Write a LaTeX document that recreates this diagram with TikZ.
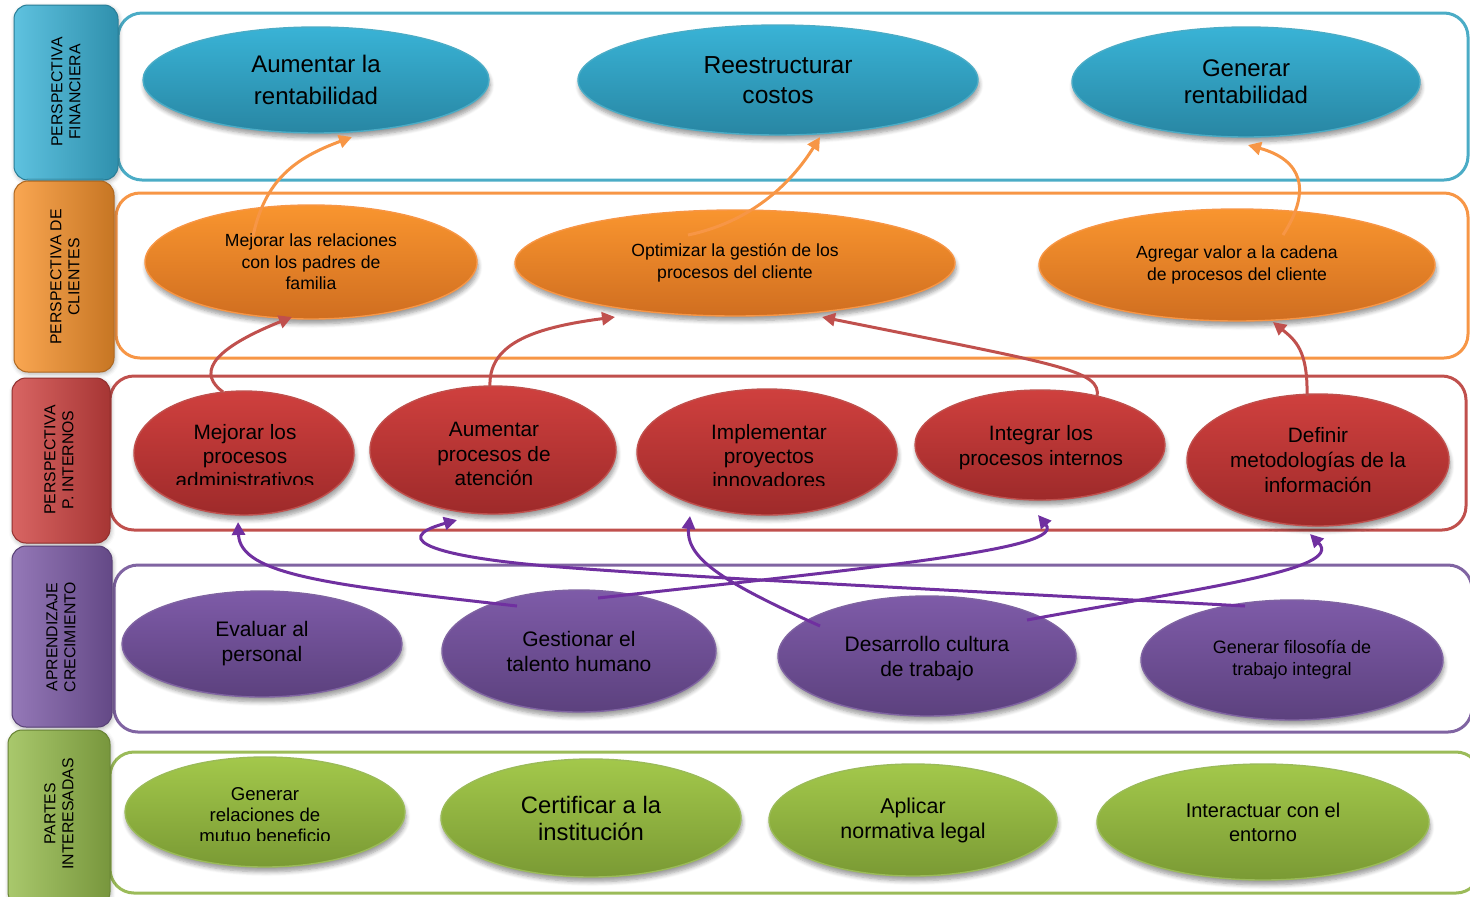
\documentclass[tikz,border=0pt]{standalone}
\usepackage{fontspec}
\setmainfont{Liberation Sans}
\usetikzlibrary{shapes.geometric,arrows.meta,calc,shadows.blur}

% palette
\definecolor{bluE}{HTML}{4BACC6}\definecolor{bluT}{HTML}{39B3D6}\definecolor{bluB}{HTML}{2886A3}
\definecolor{oraE}{HTML}{F79646}\definecolor{oraT}{HTML}{F9952F}\definecolor{oraB}{HTML}{D06E20}
\definecolor{redE}{HTML}{C0504D}\definecolor{redT}{HTML}{CF403E}\definecolor{redB}{HTML}{9E2A2A}
\definecolor{purE}{HTML}{8064A2}\definecolor{purT}{HTML}{7E5BA8}\definecolor{purB}{HTML}{5C417E}
\definecolor{grnE}{HTML}{9BBB59}\definecolor{grnT}{HTML}{A3C84B}\definecolor{grnB}{HTML}{7A9A34}
\definecolor{purA}{HTML}{7030A0}
% label box fills
\definecolor{bluL}{HTML}{3BB4D8}\definecolor{oraL}{HTML}{F8932C}\definecolor{redL}{HTML}{D04341}
\definecolor{purL}{HTML}{7D5BA8}\definecolor{grnL}{HTML}{96BC4C}

\tikzset{
  % arguments: full width and full height in drawing units (0.5pt each)
  oval/.style 2 args={ellipse, inner sep=0pt, minimum width=#1*0.5pt, minimum height=#2*0.5pt,
    align=center, text=black, line width=0.7pt,
    blur shadow={shadow xshift=0.6pt, shadow yshift=-2.4pt, shadow blur steps=6, shadow opacity=40}},
  cB/.style={draw=bluE, top color=bluT, bottom color=bluB},
  cO/.style={draw=oraE, top color=oraT, bottom color=oraB},
  cR/.style={draw=redE, top color=redT, bottom color=redB},
  cP/.style={draw=purE, top color=purT, bottom color=purB},
  cG/.style={draw=grnE, top color=grnT, bottom color=grnB},
  panel/.style={draw=#1, line width=1.5pt, rounded corners=12pt},
  labbox/.style={rounded corners=7pt, line width=0.5pt, draw=#1!70!black,
    left color=#1!82!white, middle color=#1, right color=#1!80!black,
    blur shadow={shadow xshift=0.5pt, shadow yshift=-1pt, shadow blur steps=4, shadow opacity=30}},
  labtxt/.style={rotate=90, align=center, font=\fontsize{7.9}{9}\selectfont},
  txt/.style={align=center, inner sep=0pt},
  tipA/.style={-{Triangle[length=6.5pt,width=6.5pt]}, line width=1.5pt},
  arrO/.style={tipA, draw=oraE},
  arrR/.style={tipA, draw=redE},
  arrP/.style={tipA, draw=purA},
}

\begin{document}
\begin{tikzpicture}[x=0.5pt, y=-0.5pt]
\useasboundingbox (0,0) rectangle (1470,896);

% row panels
\draw[panel=bluE] (118,13) rectangle (1468,180);
\draw[panel=oraE] (116,193) rectangle (1468,358);
\draw[panel=redE] (110,376) rectangle (1466,530);
\draw[panel=purE] (114,565) rectangle (1472,732);
\draw[panel=grnE] (110,752) rectangle (1480,893);

% perspective label boxes
\path[labbox=bluL] (14,5) rectangle (118,180);
\path[labbox=oraL] (14,181) rectangle (114,372);
\path[labbox=redL] (12,378) rectangle (110,543);
\path[labbox=purL] (12,546) rectangle (112,727);
\path[labbox=grnL] (8,730) rectangle (110,906);

\node[labtxt] (L1) at (66,92)  {PERSPECTIVA\\FINANCIERA};
\node[labtxt] (L2) at (65,277) {PERSPECTIVA DE\\CLIENTES};
\node[labtxt] (L3) at (59,460) {PERSPECTIVA\\P. INTERNOS};
\node[labtxt] (L4) at (61,637) {APRENDIZAJE\\CRECIMIENTO};
\node[labtxt] (L5) at (59,814) {PARTES\\INTERESADAS};

% financial objectives
\node[oval={346}{106}, cB, font=\fontsize{12}{16}\selectfont]   (f1) at (316,80)  {Aumentar la\\rentabilidad};
\node[oval={400}{110}, cB, font=\fontsize{12.3}{15}\selectfont] (f2) at (778,80)  {Reestructurar\\costos};
\node[oval={348}{110}, cB, font=\fontsize{12}{13.5}\selectfont] (f3) at (1246,82) {Generar\\rentabilidad};

% customer objectives
\node[oval={332}{114}, cO, font=\fontsize{8.8}{10.8}\selectfont] (c1) at (311,262)  {Mejorar las relaciones\\con los padres de\\familia};
\node[oval={440}{106}, cO, font=\fontsize{8.8}{10.8}\selectfont] (c2) at (735,263)  {Optimizar la gestión de los\\procesos del cliente};
\node[oval={396}{112}, cO, font=\fontsize{8.8}{10.8}\selectfont] (c3) at (1237,265) {Agregar valor a la cadena\\de procesos del cliente};

% internal process objectives
\node[oval={220}{124}, cR] (p1) at (244,453) {};
\node[oval={246}{128}, cR] (p2) at (493,450) {};
\node[oval={260}{126}, cR] (p3) at (767,452) {};
\node[oval={250}{110}, cR] (p4) at (1040,445) {};
\node[oval={262}{132}, cR, font=\fontsize{10.4}{12.4}\selectfont] (p5) at (1318,460) {Definir\\metodologías de la\\información};
\node[txt, font=\fontsize{10.4}{12.3}\selectfont] (t2) at (494,454) {Aumentar\\procesos de\\atención};
\node[txt, font=\fontsize{10.4}{12.5}\selectfont] (t4) at (1041,448) {Integrar los\\procesos internos};
\begin{scope}
  \clip (120,380) rectangle (360,484);
  \node[txt, font=\fontsize{10.4}{12.2}\selectfont] (t1) at (245,456) {Mejorar los\\procesos\\administrativos};
\end{scope}
\begin{scope}
  \clip (630,380) rectangle (900,485);
  \node[txt, font=\fontsize{10.4}{12.2}\selectfont] (t3) at (769,456) {Implementar\\proyectos\\innovadores};
\end{scope}

% learning and growth objectives
\node[oval={280}{106}, cP, font=\fontsize{10.5}{12.5}\selectfont] (a1) at (262,644)  {Evaluar al\\personal};
\node[oval={274}{122}, cP, font=\fontsize{10.5}{12.5}\selectfont] (a2) at (579,651)  {Gestionar el\\talento humano};
\node[oval={298}{120}, cP] (a3) at (927,656)  {};
\node[oval={302}{120}, cP, font=\fontsize{9}{11}\selectfont]     (a4) at (1292,660) {Generar filosofía de\\trabajo integral};
\node[txt, font=\fontsize{10.5}{12.5}\selectfont] (t6) at (927,659) {Desarrollo cultura\\de trabajo};

% stakeholder objectives
\node[oval={280}{110}, cG] (s1) at (265,812) {};
\node[oval={300}{118}, cG, font=\fontsize{11.9}{13.5}\selectfont] (s2) at (591,818)  {Certificar a la\\institución};
\node[oval={288}{112}, cG, font=\fontsize{10.7}{12.5}\selectfont] (s3) at (913,820)  {Aplicar\\normativa legal};
\node[oval={332}{116}, cG, font=\fontsize{10}{12}\selectfont]     (s4) at (1263,822) {Interactuar con el\\entorno};
\begin{scope}
  \clip (120,760) rectangle (410,840);
  \node[txt, font=\fontsize{9.3}{10.3}\selectfont] (t5) at (265,815) {Generar\\relaciones de\\mutuo beneficio};
\end{scope}

% customer -> financial
\draw[arrO] ($(c1)+(-58,-26)$) .. controls (265,180) and (295,158) .. ($(f1)+(36,57)$);
\draw[arrO] ($(c2)+(-47,-28)$) .. controls (750,222) and (790,185) .. ($(f2)+(42,57)$);
\draw[arrO] ($(c3)+(46,-30)$) .. controls (1312,190) and (1302,160) .. ($(f3)+(2,63)$);

% internal -> customer
\draw[arrR] ($(p1)+(-21,-61)$) .. controls (200,375) and (205,352) .. ($(c1)+(-19,55)$);
\draw[arrR] ($(p2)+(-3,-63)$) .. controls (488,345) and (530,328) .. ($(c2)+(-120,54)$);
\draw[arrR] ($(p4)+(57,-48)$) .. controls (1102,370) and (1060,365) .. ($(c2)+(87,54)$);
\draw[arrR] ($(p5)+(-11,-64)$) .. controls (1308,350) and (1295,340) .. ($(c3)+(36,57)$);

% learning -> internal
\draw[arrP] ($(a2)+(-62,-45)$) .. controls (330,585) and (240,575) .. ($(p1)+(-6,69)$);
\draw[arrP] ($(a2)+(19,-53)$) .. controls (900,565) and (1065,548) .. ($(p4)+(-2,70)$);
\draw[arrP] ($(a3)+(-107,-30)$) .. controls (730,585) and (685,560) .. ($(p3)+(-77,64)$);
\draw[arrP] ($(a4)+(-47,-54)$) .. controls (950,590) and (700,578) .. (560,567)
            .. controls (440,558) and (385,540) .. ($(p2)+(-36,70)$);
\draw[arrP] ($(a3)+(100,-36)$) .. controls (1200,588) and (1345,570) .. ($(p5)+(-8,74)$);
\end{tikzpicture}
\end{document}
